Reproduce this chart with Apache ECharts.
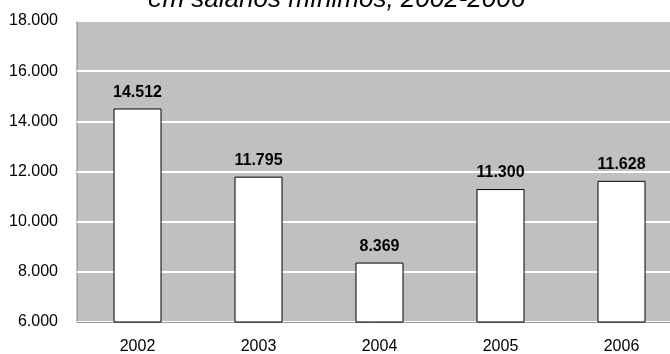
<!DOCTYPE html>
<html>
<head>
<meta charset="utf-8">
<script src="https://cdn.jsdelivr.net/npm/echarts@6/dist/echarts.min.js"></script>
<style>
  html, body { margin: 0; padding: 0; background: #fff; }
  #chart { width: 670px; height: 354px; }
</style>
</head>
<body>
<div id="chart"></div>
<script>
// Renda média anual, em salários mínimos
const years = ['2002', '2003', '2004', '2005', '2006'];
const values = [14512, 11795, 8369, 11300, 11628];
const titleText = 'em salários mínimos, 2002-2006';

const FONT = '"Liberation Sans", Arial, sans-serif';

// 12345 -> "12.345"
function ptNumber(v) {
  return String(Math.round(v)).replace(/\B(?=(\d{3})+(?!\d))/g, '.');
}

const chart = echarts.init(document.getElementById('chart'), null, { renderer: 'canvas' });

chart.setOption({
  animation: false,
  backgroundColor: '#ffffff',
  // Title line, running off the top edge of the canvas
  graphic: [{
    type: 'text',
    x: 148,
    y: 13,
    silent: true,
    style: {
      text: titleText,
      fontFamily: FONT,
      fontSize: 26,
      fontStyle: 'italic',
      fontWeight: 'normal',
      fill: '#000',
      align: 'left',
      verticalAlign: 'bottom'
    }
  }],
  grid: {
    left: 77,
    width: 605,
    top: 21,
    bottom: 32,
    outerBoundsMode: 'none',
    containLabel: false,
    show: true,
    backgroundColor: '#c0c0c0',
    borderColor: '#808080',
    borderWidth: 1
  },
  xAxis: {
    type: 'category',
    data: years,
    axisLine: { show: true, lineStyle: { color: '#9a9a9a', width: 1 } },
    axisTick: { show: false },
    axisLabel: {
      margin: 17,
      fontFamily: FONT,
      fontSize: 16,
      color: '#000'
    }
  },
  yAxis: {
    type: 'value',
    min: 6000,
    max: 18000,
    interval: 2000,
    axisLine: { show: false },
    axisTick: { show: false },
    splitLine: { show: true, lineStyle: { color: '#ffffff', width: 2 } },
    axisLabel: {
      margin: 19,
      fontFamily: FONT,
      fontSize: 16,
      color: '#000',
      formatter: ptNumber
    }
  },
  series: [{
    type: 'bar',
    data: values,
    barWidth: 48,
    itemStyle: {
      color: '#ffffff',
      borderColor: '#000000',
      borderWidth: 1
    },
    label: {
      show: true,
      position: 'top',
      distance: 8,
      fontFamily: FONT,
      fontSize: 16,
      fontWeight: 'bold',
      color: '#000',
      formatter: p => ptNumber(p.value)
    }
  }]
});
</script>
</body>
</html>
